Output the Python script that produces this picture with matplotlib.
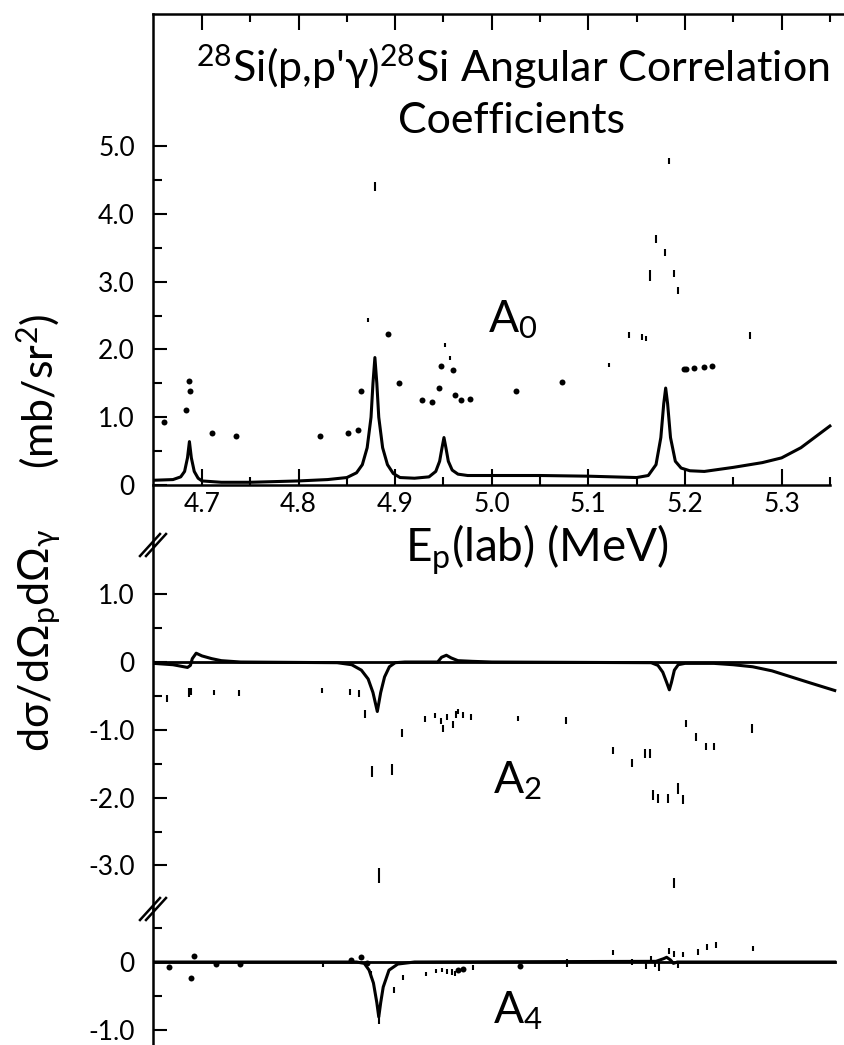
import matplotlib
matplotlib.use('Agg')
import matplotlib.pyplot as plt
from matplotlib.lines import Line2D

plt.rcParams['font.family'] = ['Lato', 'DejaVu Sans']
plt.rcParams['mathtext.default'] = 'regular'

# ---- A0 panel ----
a0_curve_x = [4.650, 4.670, 4.678, 4.682, 4.685, 4.687, 4.689, 4.692, 4.696, 4.700,
              4.720, 4.750, 4.800, 4.830, 4.850, 4.860, 4.866, 4.871, 4.875, 4.877,
              4.879, 4.881, 4.883, 4.887, 4.892, 4.898, 4.905, 4.920, 4.935, 4.942,
              4.946, 4.9485, 4.9505, 4.9525, 4.955, 4.959, 4.965, 4.975, 5.000, 5.050,
              5.100, 5.150, 5.162, 5.170, 5.175, 5.178, 5.180, 5.182, 5.185, 5.190,
              5.196, 5.205, 5.220, 5.250, 5.280, 5.300, 5.320, 5.350]
a0_curve_y = [0.07, 0.08, 0.12, 0.20, 0.40, 0.64, 0.40, 0.20, 0.10, 0.06,
              0.04, 0.04, 0.06, 0.08, 0.11, 0.18, 0.30, 0.55, 1.00, 1.50,
              1.88, 1.50, 1.00, 0.55, 0.30, 0.17, 0.11, 0.10, 0.12, 0.20,
              0.35, 0.55, 0.70, 0.55, 0.35, 0.22, 0.16, 0.14, 0.14, 0.14,
              0.13, 0.11, 0.14, 0.30, 0.70, 1.20, 1.43, 1.20, 0.70, 0.35,
              0.25, 0.21, 0.20, 0.26, 0.33, 0.40, 0.55, 0.87]
a0_dot_x = [4.661, 4.683, 4.6865, 4.688, 4.710, 4.735, 4.822, 4.851, 4.862, 4.865,
            4.893, 4.904, 4.928, 4.938, 4.945, 4.947, 4.960, 4.962, 4.968, 4.977,
            5.025, 5.073, 5.199, 5.201, 5.209, 5.220, 5.228]
a0_dot_y = [0.93, 1.11, 1.53, 1.39, 0.76, 0.73, 0.73, 0.76, 0.81, 1.39,
            2.22, 1.50, 1.25, 1.22, 1.43, 1.76, 1.70, 1.33, 1.25, 1.27,
            1.39, 1.52, 1.71, 1.71, 1.72, 1.74, 1.76]
a0_bar_x = [4.872, 4.879, 4.952, 4.957, 5.121, 5.142, 5.155, 5.160, 5.164, 5.170,
            5.179, 5.183, 5.189, 5.193, 5.267]
a0_bar_y = [2.43, 4.40, 2.06, 1.88, 1.77, 2.21, 2.18, 2.16, 3.09, 3.63,
            3.43, 4.78, 3.12, 2.87, 2.21]
a0_bar_err = [0.03, 0.07, 0.03, 0.03, 0.03, 0.04, 0.04, 0.04, 0.075, 0.06,
              0.05, 0.05, 0.05, 0.05, 0.05]

# ---- A2 panel ----
a2_curve_x = [4.650, 4.670, 4.685, 4.688, 4.690, 4.694, 4.700, 4.710, 4.720, 4.740,
              4.840, 4.855, 4.865, 4.872, 4.877, 4.8815, 4.885, 4.889, 4.894, 4.900,
              4.910, 4.944, 4.948, 4.953, 4.958, 4.965, 4.980, 5.000, 5.165, 5.172,
              5.177, 5.181, 5.1838, 5.186, 5.189, 5.193, 5.200, 5.230, 5.250, 5.270,
              5.290, 5.310, 5.330, 5.355]
a2_curve_y = [-0.02, -0.04, -0.08, -0.05, 0.05, 0.13, 0.09, 0.05, 0.02, 0.00,
              -0.01, -0.04, -0.12, -0.25, -0.45, -0.73, -0.45, -0.22, -0.07, -0.01,
              0.00, 0.00, 0.07, 0.10, 0.06, 0.02, 0.01, 0.00, -0.01, -0.05,
              -0.15, -0.30, -0.41, -0.30, -0.12, -0.04, -0.02, -0.02, -0.04, -0.07,
              -0.13, -0.22, -0.31, -0.42]
a2_bar_x = [4.664, 4.687, 4.689, 4.712, 4.738, 4.824, 4.853, 4.863, 4.869, 4.876,
            4.883, 4.897, 4.907, 4.931, 4.941, 4.947, 4.950, 4.954, 4.9595, 4.963,
            4.9655, 4.9705, 4.979, 5.0275, 5.0765, 5.125, 5.1448, 5.1586, 5.164, 5.1672,
            5.1724, 5.1827, 5.1886, 5.193, 5.1976, 5.201, 5.2114, 5.2218, 5.2303, 5.269]
a2_bar_y = [-0.54, -0.45, -0.43, -0.45, -0.46, -0.42, -0.44, -0.47, -0.77, -1.62,
            -3.15, -1.59, -1.05, -0.84, -0.79, -0.87, -0.98, -0.81, -0.92, -0.77,
            -0.73, -0.78, -0.81, -0.83, -0.86, -1.30, -1.49, -1.35, -1.35, -1.96,
            -2.01, -2.01, -3.26, -1.86, -2.03, -0.91, -1.10, -1.25, -1.25, -0.98]
a2_bar_err = [0.05, 0.06, 0.05, 0.04, 0.04, 0.04, 0.04, 0.05, 0.06, 0.08,
              0.11, 0.08, 0.06, 0.04, 0.04, 0.04, 0.05, 0.05, 0.05, 0.05,
              0.04, 0.04, 0.04, 0.04, 0.05, 0.05, 0.06, 0.06, 0.06, 0.07,
              0.07, 0.07, 0.08, 0.08, 0.07, 0.05, 0.06, 0.05, 0.05, 0.06]

# ---- A4 panel ----
a4_curve_x = [4.650, 4.860, 4.868, 4.873, 4.8775, 4.881, 4.883, 4.885, 4.8876, 4.8936,
              4.9027, 4.920, 5.170, 5.178, 5.181, 5.185, 5.188, 5.192, 5.355]
a4_curve_y = [0.00, 0.00, -0.02, -0.12, -0.31, -0.60, -0.81, -0.60, -0.37, -0.12,
              -0.03, 0.00, 0.01, 0.05, 0.07, 0.03, -0.02, 0.00, 0.00]
a4_dot_x = [4.6654, 4.6883, 4.692, 4.714, 4.739, 4.8546, 4.865, 4.8706, 4.965, 4.970, 5.029]
a4_dot_y = [-0.08, -0.24, 0.09, -0.03, -0.03, 0.03, 0.07, -0.02, -0.12, -0.11, -0.06]
a4_bar_x = [4.8248, 4.875, 4.883, 4.899, 4.908, 4.9324, 4.9425, 4.9485, 4.954, 4.959,
            4.962, 4.981, 5.0775, 5.1258, 5.1455, 5.160, 5.1648, 5.169, 5.1734, 5.1838,
            5.1886, 5.193, 5.198, 5.213, 5.223, 5.232, 5.2707]
a4_bar_y = [-0.04, -0.18, -0.86, -0.41, -0.23, -0.17, -0.13, -0.12, -0.14, -0.15,
            -0.17, -0.08, -0.02, 0.14, 0.00, -0.06, 0.05, -0.03, -0.07, 0.16,
            0.12, -0.05, 0.11, 0.15, 0.22, 0.25, 0.20]
a4_bar_err = [0.03, 0.05, 0.06, 0.04, 0.04, 0.03, 0.03, 0.03, 0.04, 0.04,
              0.04, 0.04, 0.06, 0.03, 0.04, 0.04, 0.04, 0.04, 0.06, 0.04,
              0.04, 0.04, 0.04, 0.04, 0.04, 0.04, 0.04]

x_major = [4.7, 4.8, 4.9, 5.0, 5.1, 5.2, 5.3]
x_major_labels = ['4.7', '4.8', '4.9', '5.0', '5.1', '5.2', '5.3']
x_minor = [4.75, 4.85, 4.95, 5.05, 5.15, 5.25, 5.35]

W, H = 844, 1045
XLIM = (4.6493, 5.3646)
LW = 2.2
TICK_FS = 19


def fx(px):
    return px / W


def fy(py):
    return 1 - py / H


fig = plt.figure(figsize=(W / 100, H / 100), dpi=100)
left = fx(153)
width = 1 - left
ax1 = fig.add_axes([left, fy(545), width, (545 - 14) / H])
ax2 = fig.add_axes([left, fy(909), width, (909 - 545) / H])
ax3 = fig.add_axes([left, 0, width, (1045 - 909) / H])

ax1.set_ylim(-0.885, 6.947)
ax2.set_ylim(-3.643, 1.726)
ax3.set_ylim(-1.224, 0.782)

for ax in (ax1, ax2, ax3):
    ax.set_xlim(*XLIM)
    ax.patch.set_alpha(0)
    ax.spines['right'].set_visible(False)
    ax.spines['left'].set_linewidth(1.8)
    ax.tick_params(axis='y', which='both', direction='in', width=1.5,
                   labelsize=TICK_FS, pad=13)
    ax.tick_params(axis='y', which='major', length=10)
    ax.tick_params(axis='y', which='minor', length=6.5)

# top panel axes
ax1.spines['top'].set_linewidth(1.8)
ax1.spines['bottom'].set_position(('data', 0))
ax1.spines['bottom'].set_linewidth(1.8)
ax1.spines['bottom'].set_bounds(XLIM[0], 5.35)
ax1.set_xticks(x_major)
ax1.set_xticklabels(x_major_labels)
ax1.set_xticks(x_minor, minor=True)
ax1.tick_params(axis='x', which='both', direction='in', top=True, bottom=True,
                width=1.5, labelsize=TICK_FS, pad=5)
ax1.tick_params(axis='x', which='major', length=11.5)
ax1.tick_params(axis='x', which='minor', length=6)
ax1.set_yticks([0, 1, 2, 3, 4, 5])
ax1.set_yticklabels(['0', '1.0', '2.0', '3.0', '4.0', '5.0'])
ax1.set_yticks([0.5, 1.5, 2.5, 3.5, 4.5], minor=True)

for ax in (ax2, ax3):
    ax.spines['top'].set_visible(False)
    ax.spines['bottom'].set_visible(False)
    ax.set_xticks([])
    ax.axhline(0, xmax=(5.355 - XLIM[0]) / (XLIM[1] - XLIM[0]), color='black', lw=2.0)

ax2.set_yticks([1, 0, -1, -2, -3])
ax2.set_yticklabels(['1.0', '0', '-1.0', '-2.0', '-3.0'])
ax2.set_yticks([0.5, -0.5, -1.5, -2.5], minor=True)
ax3.set_yticks([0, -1])
ax3.set_yticklabels(['0', '-1.0'])
ax3.set_yticks([0.5, -0.5], minor=True)

# curves
ax1.plot(a0_curve_x, a0_curve_y, color='black', lw=LW)
ax2.plot(a2_curve_x, a2_curve_y, color='black', lw=LW)
ax3.plot(a4_curve_x, a4_curve_y, color='black', lw=LW)

# data
ax1.plot(a0_dot_x, a0_dot_y, 'o', color='black', ms=4.3, mew=0)
ax1.errorbar(a0_bar_x, a0_bar_y, yerr=a0_bar_err, fmt='none', ecolor='black', elinewidth=1.5)
ax2.errorbar(a2_bar_x, a2_bar_y, yerr=a2_bar_err, fmt='none', ecolor='black', elinewidth=1.5)
ax3.plot(a4_dot_x, a4_dot_y, 'o', color='black', ms=4.3, mew=0)
ax3.errorbar(a4_bar_x, a4_bar_y, yerr=a4_bar_err, fmt='none', ecolor='black', elinewidth=1.5)

# axis break marks
for yb in (545, 909):
    for dx in (-3, 3):
        fig.add_artist(Line2D([fx(143 + dx), fx(163 + dx)], [fy(yb + 11), fy(yb - 11)],
                              color='black', lw=1.8))

# text
fig.text(fx(513), fy(82), "$^{28}$Si(p,p'γ)$^{28}$Si Angular Correlation",
         ha='center', va='baseline', fontsize=31)
fig.text(fx(512), fy(133), "Coefficients", ha='center', va='baseline', fontsize=31)
fig.text(fx(537), fy(562), "E$_p$(lab) (MeV)", ha='center', va='baseline', fontsize=33)
fig.text(fx(488), fy(332), "A$_0$", ha='left', va='baseline', fontsize=32)
fig.text(fx(493), fy(793), "A$_2$", ha='left', va='baseline', fontsize=32)
fig.text(fx(493), fy(1023), "A$_4$", ha='left', va='baseline', fontsize=32)
fig.text(fx(40), fy(640), "dσ/dΩ$_p$dΩ$_γ$", rotation=90, ha='center', va='center',
         fontsize=31)
fig.text(fx(38), fy(391), "(mb/sr$^2$)", rotation=90, ha='center', va='center',
         fontsize=31)

fig.savefig('out.png', dpi=100)
